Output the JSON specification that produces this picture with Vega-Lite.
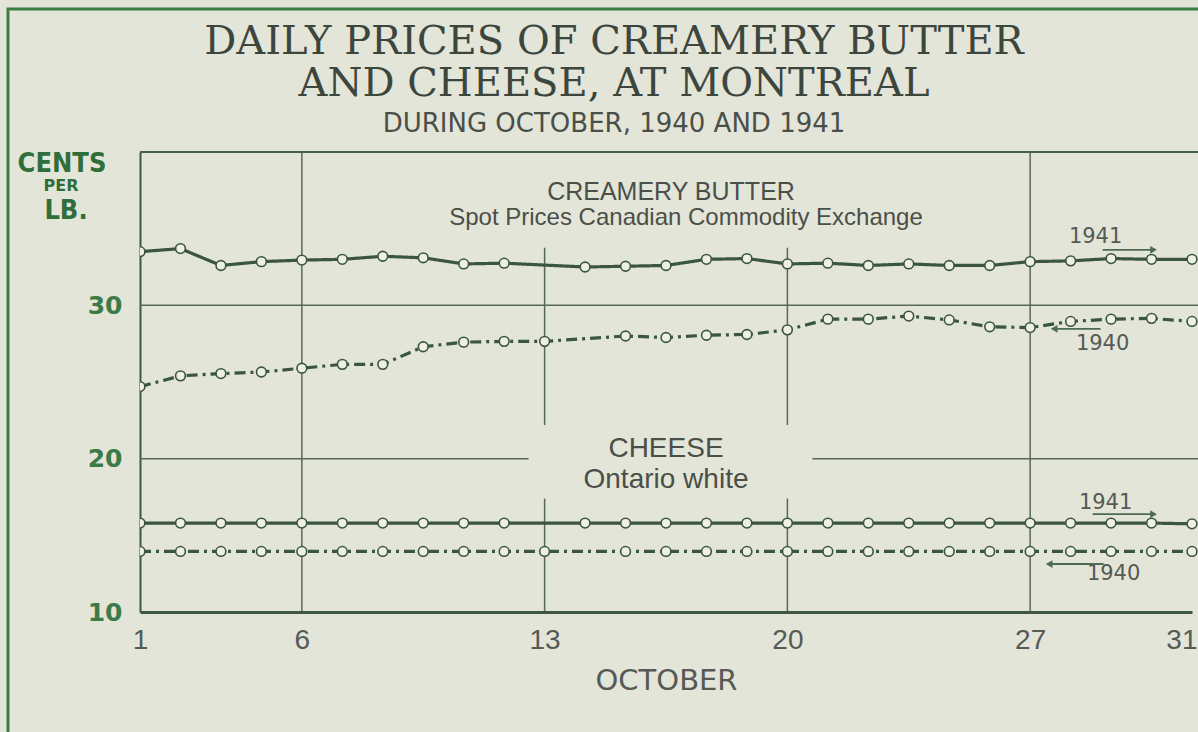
{
  "$schema": "https://vega.github.io/schema/vega-lite/v6.json",
  "width": 1058,
  "height": 460,
  "autosize": {"type": "none"},
  "padding": {"left": 140, "top": 152, "right": 0, "bottom": 120},
  "background": "#e3e5d9",
  "config": {"view": {"stroke": null}},
  "title": {
    "text": ["DAILY PRICES OF CREAMERY BUTTER", "AND CHEESE, AT MONTREAL"],
    "subtitle": "DURING OCTOBER, 1940 AND 1941",
    "anchor": "middle",
    "frame": "group",
    "dx": -55,
    "offset": -129,
    "font": "DejaVu Serif",
    "fontSize": 40,
    "fontWeight": "normal",
    "color": "#3d463d",
    "lineHeight": 42,
    "subtitleFont": "DejaVu Sans",
    "subtitleFontSize": 26,
    "subtitleColor": "#4a4f48",
    "subtitlePadding": 7
  },
  "datasets": {
    "prices": [
      {"product": "Butter", "year": "1941", "day": 1, "price": 33.5},
      {"product": "Butter", "year": "1941", "day": 2, "price": 33.7},
      {"product": "Butter", "year": "1941", "day": 3, "price": 32.6},
      {"product": "Butter", "year": "1941", "day": 4, "price": 32.85},
      {"product": "Butter", "year": "1941", "day": 6, "price": 32.95},
      {"product": "Butter", "year": "1941", "day": 7, "price": 33.0},
      {"product": "Butter", "year": "1941", "day": 8, "price": 33.2},
      {"product": "Butter", "year": "1941", "day": 9, "price": 33.1},
      {"product": "Butter", "year": "1941", "day": 10, "price": 32.7},
      {"product": "Butter", "year": "1941", "day": 11, "price": 32.75},
      {"product": "Butter", "year": "1941", "day": 14, "price": 32.5},
      {"product": "Butter", "year": "1941", "day": 15, "price": 32.55},
      {"product": "Butter", "year": "1941", "day": 16, "price": 32.6},
      {"product": "Butter", "year": "1941", "day": 17, "price": 33.0},
      {"product": "Butter", "year": "1941", "day": 18, "price": 33.05},
      {"product": "Butter", "year": "1941", "day": 20, "price": 32.7},
      {"product": "Butter", "year": "1941", "day": 21, "price": 32.75},
      {"product": "Butter", "year": "1941", "day": 22, "price": 32.6},
      {"product": "Butter", "year": "1941", "day": 23, "price": 32.7},
      {"product": "Butter", "year": "1941", "day": 24, "price": 32.6},
      {"product": "Butter", "year": "1941", "day": 25, "price": 32.6},
      {"product": "Butter", "year": "1941", "day": 27, "price": 32.85},
      {"product": "Butter", "year": "1941", "day": 28, "price": 32.9},
      {"product": "Butter", "year": "1941", "day": 29, "price": 33.05},
      {"product": "Butter", "year": "1941", "day": 30, "price": 33.0},
      {"product": "Butter", "year": "1941", "day": 31, "price": 33.0},
      {"product": "Butter", "year": "1940", "day": 1, "price": 24.7},
      {"product": "Butter", "year": "1940", "day": 2, "price": 25.4},
      {"product": "Butter", "year": "1940", "day": 3, "price": 25.55},
      {"product": "Butter", "year": "1940", "day": 4, "price": 25.65},
      {"product": "Butter", "year": "1940", "day": 6, "price": 25.9},
      {"product": "Butter", "year": "1940", "day": 7, "price": 26.15},
      {"product": "Butter", "year": "1940", "day": 8, "price": 26.15},
      {"product": "Butter", "year": "1940", "day": 9, "price": 27.3},
      {"product": "Butter", "year": "1940", "day": 10, "price": 27.6},
      {"product": "Butter", "year": "1940", "day": 11, "price": 27.65},
      {"product": "Butter", "year": "1940", "day": 13, "price": 27.65},
      {"product": "Butter", "year": "1940", "day": 15, "price": 28.0},
      {"product": "Butter", "year": "1940", "day": 16, "price": 27.9},
      {"product": "Butter", "year": "1940", "day": 17, "price": 28.05},
      {"product": "Butter", "year": "1940", "day": 18, "price": 28.1},
      {"product": "Butter", "year": "1940", "day": 20, "price": 28.4},
      {"product": "Butter", "year": "1940", "day": 21, "price": 29.1},
      {"product": "Butter", "year": "1940", "day": 22, "price": 29.1},
      {"product": "Butter", "year": "1940", "day": 23, "price": 29.3},
      {"product": "Butter", "year": "1940", "day": 24, "price": 29.05},
      {"product": "Butter", "year": "1940", "day": 25, "price": 28.6},
      {"product": "Butter", "year": "1940", "day": 27, "price": 28.55},
      {"product": "Butter", "year": "1940", "day": 28, "price": 28.95},
      {"product": "Butter", "year": "1940", "day": 29, "price": 29.1},
      {"product": "Butter", "year": "1940", "day": 30, "price": 29.15},
      {"product": "Butter", "year": "1940", "day": 31, "price": 28.95},
      {"product": "Cheese", "year": "1941", "day": 1, "price": 15.8},
      {"product": "Cheese", "year": "1941", "day": 2, "price": 15.8},
      {"product": "Cheese", "year": "1941", "day": 3, "price": 15.8},
      {"product": "Cheese", "year": "1941", "day": 4, "price": 15.8},
      {"product": "Cheese", "year": "1941", "day": 6, "price": 15.8},
      {"product": "Cheese", "year": "1941", "day": 7, "price": 15.8},
      {"product": "Cheese", "year": "1941", "day": 8, "price": 15.8},
      {"product": "Cheese", "year": "1941", "day": 9, "price": 15.8},
      {"product": "Cheese", "year": "1941", "day": 10, "price": 15.8},
      {"product": "Cheese", "year": "1941", "day": 11, "price": 15.8},
      {"product": "Cheese", "year": "1941", "day": 14, "price": 15.8},
      {"product": "Cheese", "year": "1941", "day": 15, "price": 15.8},
      {"product": "Cheese", "year": "1941", "day": 16, "price": 15.8},
      {"product": "Cheese", "year": "1941", "day": 17, "price": 15.8},
      {"product": "Cheese", "year": "1941", "day": 18, "price": 15.8},
      {"product": "Cheese", "year": "1941", "day": 20, "price": 15.8},
      {"product": "Cheese", "year": "1941", "day": 21, "price": 15.8},
      {"product": "Cheese", "year": "1941", "day": 22, "price": 15.8},
      {"product": "Cheese", "year": "1941", "day": 23, "price": 15.8},
      {"product": "Cheese", "year": "1941", "day": 24, "price": 15.8},
      {"product": "Cheese", "year": "1941", "day": 25, "price": 15.8},
      {"product": "Cheese", "year": "1941", "day": 27, "price": 15.8},
      {"product": "Cheese", "year": "1941", "day": 28, "price": 15.8},
      {"product": "Cheese", "year": "1941", "day": 29, "price": 15.8},
      {"product": "Cheese", "year": "1941", "day": 30, "price": 15.8},
      {"product": "Cheese", "year": "1941", "day": 31, "price": 15.75},
      {"product": "Cheese", "year": "1940", "day": 1, "price": 13.95},
      {"product": "Cheese", "year": "1940", "day": 2, "price": 13.95},
      {"product": "Cheese", "year": "1940", "day": 3, "price": 13.95},
      {"product": "Cheese", "year": "1940", "day": 4, "price": 13.95},
      {"product": "Cheese", "year": "1940", "day": 6, "price": 13.95},
      {"product": "Cheese", "year": "1940", "day": 7, "price": 13.95},
      {"product": "Cheese", "year": "1940", "day": 8, "price": 13.95},
      {"product": "Cheese", "year": "1940", "day": 9, "price": 13.95},
      {"product": "Cheese", "year": "1940", "day": 10, "price": 13.95},
      {"product": "Cheese", "year": "1940", "day": 11, "price": 13.95},
      {"product": "Cheese", "year": "1940", "day": 13, "price": 13.95},
      {"product": "Cheese", "year": "1940", "day": 15, "price": 13.95},
      {"product": "Cheese", "year": "1940", "day": 16, "price": 13.95},
      {"product": "Cheese", "year": "1940", "day": 17, "price": 13.95},
      {"product": "Cheese", "year": "1940", "day": 18, "price": 13.95},
      {"product": "Cheese", "year": "1940", "day": 20, "price": 13.95},
      {"product": "Cheese", "year": "1940", "day": 21, "price": 13.95},
      {"product": "Cheese", "year": "1940", "day": 22, "price": 13.95},
      {"product": "Cheese", "year": "1940", "day": 23, "price": 13.95},
      {"product": "Cheese", "year": "1940", "day": 24, "price": 13.95},
      {"product": "Cheese", "year": "1940", "day": 25, "price": 13.95},
      {"product": "Cheese", "year": "1940", "day": 27, "price": 13.95},
      {"product": "Cheese", "year": "1940", "day": 28, "price": 13.95},
      {"product": "Cheese", "year": "1940", "day": 29, "price": 13.95},
      {"product": "Cheese", "year": "1940", "day": 30, "price": 13.95},
      {"product": "Cheese", "year": "1940", "day": 31, "price": 13.95}
    ]
  },
  "layer": [
    {
      "data": {"values": [{"k": "frame"}]},
      "mark": {"type": "rect", "fillOpacity": 0, "stroke": "#3a7d45", "strokeWidth": 3, "xOffset": -132, "x2Offset": 40, "yOffset": -143, "y2Offset": 150},
      "encoding": {
        "x": {"datum": 1, "type": "ordinal"},
        "x2": {"datum": 31},
        "y": {"datum": 40, "type": "quantitative"},
        "y2": {"datum": 10}
      }
    },
    {
      "data": {"values": [{"day": 6}, {"day": 13}, {"day": 20}, {"day": 27}]},
      "mark": {"type": "rule", "color": "#56685a", "strokeWidth": 1.5},
      "encoding": {"x": {"field": "day", "type": "ordinal"}}
    },
    {
      "data": {"values": [{"price": 20}, {"price": 30}]},
      "mark": {"type": "rule", "color": "#56685a", "strokeWidth": 1.5},
      "encoding": {"y": {"field": "price", "type": "quantitative"}}
    },
    {
      "data": {"values": [{"k": "mask"}]},
      "mark": {"type": "rect", "fill": "#e3e5d9"},
      "encoding": {
        "x": {"datum": 11, "type": "ordinal"},
        "x2": {"datum": 23},
        "y": {"datum": 40, "type": "quantitative"},
        "y2": {"datum": 33.75}
      }
    },
    {
      "data": {"values": [{"k": "mask"}]},
      "mark": {"type": "rect", "fill": "#e3e5d9", "xOffset": -16, "x2Offset": 25},
      "encoding": {
        "x": {"datum": 13, "type": "ordinal"},
        "x2": {"datum": 20},
        "y": {"datum": 22.2, "type": "quantitative"},
        "y2": {"datum": 17.4}
      }
    },
    {
      "data": {"values": [{"k": "top"}]},
      "mark": {"type": "rule", "color": "#4a5f4c", "strokeWidth": 2},
      "encoding": {"y": {"datum": 40, "type": "quantitative"}}
    },
    {
      "data": {"name": "prices"},
      "mark": {"type": "line", "color": "#3a5540", "strokeWidth": 3.2, "clip": true},
      "encoding": {
        "x": {
          "field": "day",
          "type": "ordinal",
          "scale": {"type": "point", "padding": 0, "range": [0, 1052],
            "domain": [1, 2, 3, 4, 6, 7, 8, 9, 10, 11, 13, 14, 15, 16, 17, 18, 20, 21, 22, 23, 24, 25, 27, 28, 29, 30, 31]},
          "axis": {
            "title": "OCTOBER",
            "values": [1, 6, 13, 20, 27, 31],
            "labelAngle": 0,
            "labelAlign": {"condition": {"test": "datum.value === 31", "value": "right"}, "value": "center"},
            "labelOffset": {"condition": {"test": "datum.value === 31", "value": 5}, "value": 0},
            "labelFont": "Liberation Sans",
            "labelFontSize": 28,
            "labelColor": "#555a55",
            "labelPadding": 28,
            "labelOverlap": false,
            "labelBound": false,
            "labelFlush": false,
            "ticks": false,
            "grid": false,
            "domain": true,
            "domainColor": "#3d5742",
            "domainWidth": 3,
            "titleFont": "DejaVu Sans",
            "titleFontSize": 29,
            "titleFontWeight": "normal",
            "titleColor": "#555a55",
            "titlePadding": 12
          }
        },
        "y": {
          "field": "price",
          "type": "quantitative",
          "scale": {"domain": [10, 40], "nice": false, "zero": false},
          "axis": {
            "title": null,
            "values": [10, 20, 30],
            "grid": false,
            "ticks": false,
            "domain": true,
            "domainColor": "#3d5742",
            "domainWidth": 2,
            "labelFont": "DejaVu Sans",
            "labelFontWeight": "bold",
            "labelFontSize": 25,
            "labelColor": "#3c7a47",
            "labelPadding": 18
          }
        },
        "detail": {"field": "product"},
        "strokeDash": {
          "field": "year",
          "type": "nominal",
          "scale": {"domain": ["1941", "1940"], "range": [[1, 0], [11, 5, 3, 5]]},
          "legend": null
        }
      }
    },
    {
      "data": {"name": "prices"},
      "mark": {"type": "circle", "size": 95, "fill": "#eef0e6", "stroke": "#3a5540", "strokeWidth": 1.6, "opacity": 1, "clip": true},
      "encoding": {
        "x": {"field": "day", "type": "ordinal"},
        "y": {"field": "price", "type": "quantitative"}
      }
    },
    {
      "data": {"values": [{"label": "CENTS"}]},
      "mark": {"type": "text", "font": "DejaVu Sans Condensed, Liberation Sans Narrow, Liberation Sans", "fontWeight": "bold", "fontSize": 27, "color": "#2f6e3a", "align": "center", "baseline": "alphabetic", "dx": -78, "dy": 20},
      "encoding": {"x": {"datum": 1, "type": "ordinal"}, "y": {"datum": 40, "type": "quantitative"}, "text": {"field": "label"}}
    },
    {
      "data": {"values": [{"label": "PER"}]},
      "mark": {"type": "text", "font": "DejaVu Sans", "fontWeight": "bold", "fontSize": 16, "color": "#2f6e3a", "align": "center", "baseline": "alphabetic", "dx": -79, "dy": 39},
      "encoding": {"x": {"datum": 1, "type": "ordinal"}, "y": {"datum": 40, "type": "quantitative"}, "text": {"field": "label"}}
    },
    {
      "data": {"values": [{"label": "LB."}]},
      "mark": {"type": "text", "font": "DejaVu Sans Condensed, Liberation Sans Narrow, Liberation Sans", "fontWeight": "bold", "fontSize": 27, "color": "#2f6e3a", "align": "center", "baseline": "alphabetic", "dx": -74, "dy": 67},
      "encoding": {"x": {"datum": 1, "type": "ordinal"}, "y": {"datum": 40, "type": "quantitative"}, "text": {"field": "label"}}
    },
    {
      "data": {"values": [{"label": "CREAMERY BUTTER"}]},
      "mark": {"type": "text", "font": "Liberation Sans", "fontSize": 25, "color": "#4a4f48", "align": "center", "baseline": "alphabetic", "dx": 5},
      "encoding": {"x": {"datum": 16, "type": "ordinal"}, "y": {"datum": 36.86, "type": "quantitative"}, "text": {"field": "label"}}
    },
    {
      "data": {"values": [{"label": "Spot Prices Canadian Commodity Exchange"}]},
      "mark": {"type": "text", "font": "Liberation Sans", "fontSize": 24, "color": "#4a4f48", "align": "center", "baseline": "alphabetic", "dx": 20},
      "encoding": {"x": {"datum": 16, "type": "ordinal"}, "y": {"datum": 35.25, "type": "quantitative"}, "text": {"field": "label"}}
    },
    {
      "data": {"values": [{"label": "CHEESE"}]},
      "mark": {"type": "text", "font": "Liberation Sans", "fontSize": 28, "color": "#4a4f48", "align": "center", "baseline": "alphabetic", "dx": 0},
      "encoding": {"x": {"datum": 16, "type": "ordinal"}, "y": {"datum": 20.1, "type": "quantitative"}, "text": {"field": "label"}}
    },
    {
      "data": {"values": [{"label": "Ontario white"}]},
      "mark": {"type": "text", "font": "Liberation Sans", "fontSize": 28, "color": "#4a4f48", "align": "center", "baseline": "alphabetic", "dx": 0},
      "encoding": {"x": {"datum": 16, "type": "ordinal"}, "y": {"datum": 18.1, "type": "quantitative"}, "text": {"field": "label"}}
    },
    {
      "data": {"values": [{"label": "1941"}]},
      "mark": {"type": "text", "font": "DejaVu Sans", "fontSize": 21, "color": "#555a55", "align": "center", "baseline": "middle", "dx": 25},
      "encoding": {"x": {"datum": 28, "type": "ordinal"}, "y": {"datum": 34.45, "type": "quantitative"}, "text": {"field": "label"}}
    },
    {
      "data": {"values": [{"label": "1940"}]},
      "mark": {"type": "text", "font": "DejaVu Sans", "fontSize": 21, "color": "#555a55", "align": "center", "baseline": "middle", "dx": 32},
      "encoding": {"x": {"datum": 28, "type": "ordinal"}, "y": {"datum": 27.5, "type": "quantitative"}, "text": {"field": "label"}}
    },
    {
      "data": {"values": [{"label": "1941"}]},
      "mark": {"type": "text", "font": "DejaVu Sans", "fontSize": 21, "color": "#555a55", "align": "center", "baseline": "middle", "dx": 35},
      "encoding": {"x": {"datum": 28, "type": "ordinal"}, "y": {"datum": 17.1, "type": "quantitative"}, "text": {"field": "label"}}
    },
    {
      "data": {"values": [{"label": "1940"}]},
      "mark": {"type": "text", "font": "DejaVu Sans", "fontSize": 21, "color": "#555a55", "align": "center", "baseline": "middle", "dx": 43},
      "encoding": {"x": {"datum": 28, "type": "ordinal"}, "y": {"datum": 12.45, "type": "quantitative"}, "text": {"field": "label"}}
    },
    {
      "data": {"values": [{"k": "arrow"}]},
      "mark": {"type": "rule", "color": "#4d6a52", "strokeWidth": 1.8, "xOffset": 32, "x2Offset": 2},
      "encoding": {"x": {"datum": 28, "type": "ordinal"}, "x2": {"datum": 30}, "y": {"datum": 33.62, "type": "quantitative"}}
    },
    {
      "data": {"values": [{"k": "head"}]},
      "mark": {"type": "point", "shape": "triangle-right", "filled": true, "size": 60, "color": "#4d6a52", "opacity": 1, "xOffset": 2},
      "encoding": {"x": {"datum": 30, "type": "ordinal"}, "y": {"datum": 33.62, "type": "quantitative"}}
    },
    {
      "data": {"values": [{"k": "arrow"}]},
      "mark": {"type": "rule", "color": "#4d6a52", "strokeWidth": 1.8, "xOffset": 24, "x2Offset": 30},
      "encoding": {"x": {"datum": 27, "type": "ordinal"}, "x2": {"datum": 28}, "y": {"datum": 28.47, "type": "quantitative"}}
    },
    {
      "data": {"values": [{"k": "head"}]},
      "mark": {"type": "point", "shape": "triangle-left", "filled": true, "size": 60, "color": "#4d6a52", "opacity": 1, "xOffset": 24},
      "encoding": {"x": {"datum": 27, "type": "ordinal"}, "y": {"datum": 28.47, "type": "quantitative"}}
    },
    {
      "data": {"values": [{"k": "arrow"}]},
      "mark": {"type": "rule", "color": "#4d6a52", "strokeWidth": 1.8, "xOffset": 22, "x2Offset": 2},
      "encoding": {"x": {"datum": 28, "type": "ordinal"}, "x2": {"datum": 30}, "y": {"datum": 16.38, "type": "quantitative"}}
    },
    {
      "data": {"values": [{"k": "head"}]},
      "mark": {"type": "point", "shape": "triangle-right", "filled": true, "size": 60, "color": "#4d6a52", "opacity": 1, "xOffset": 2},
      "encoding": {"x": {"datum": 30, "type": "ordinal"}, "y": {"datum": 16.38, "type": "quantitative"}}
    },
    {
      "data": {"values": [{"k": "arrow"}]},
      "mark": {"type": "rule", "color": "#4d6a52", "strokeWidth": 1.8, "xOffset": 19, "x2Offset": 33},
      "encoding": {"x": {"datum": 27, "type": "ordinal"}, "x2": {"datum": 28}, "y": {"datum": 13.13, "type": "quantitative"}}
    },
    {
      "data": {"values": [{"k": "head"}]},
      "mark": {"type": "point", "shape": "triangle-left", "filled": true, "size": 60, "color": "#4d6a52", "opacity": 1, "xOffset": 19},
      "encoding": {"x": {"datum": 27, "type": "ordinal"}, "y": {"datum": 13.13, "type": "quantitative"}}
    }
  ]
}
